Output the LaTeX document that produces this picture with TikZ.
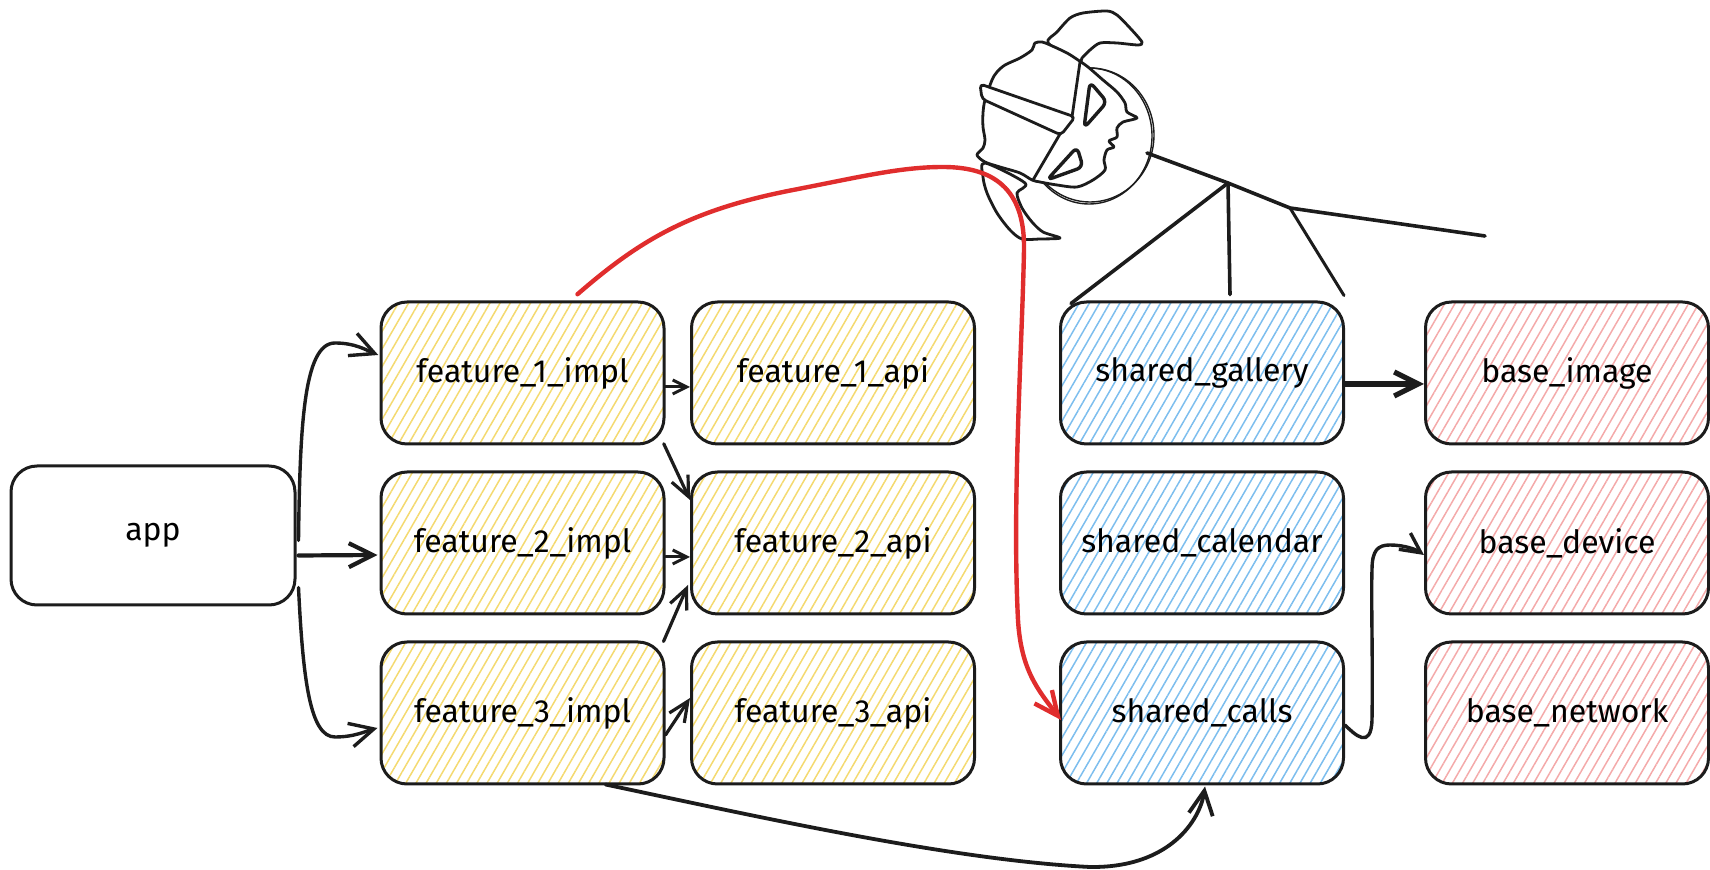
\documentclass[tikz,border=0pt]{standalone}
\usepackage{fontspec}
\setmainfont{Fira Sans}
\usetikzlibrary{arrows.meta,calc,patterns.meta}
\definecolor{ink}{RGB}{28,28,28}
\definecolor{hatchY}{RGB}{244,218,112}
\definecolor{hatchB}{RGB}{125,190,238}
\definecolor{hatchR}{RGB}{244,170,170}
\definecolor{redline}{RGB}{224,45,45}
\begin{document}
\begin{tikzpicture}[x=0.5pt,y=-0.5pt,
  box/.style={draw=ink, line width=1.5pt, rounded corners=13pt,
    minimum width=141.5pt, minimum height=71pt, inner sep=0pt,
    font=\fontsize{16}{19}\selectfont},
  yel/.style={box, pattern={Lines[angle=60,distance=4.4pt,line width=0.75pt]}, pattern color=hatchY},
  blu/.style={box, pattern={Lines[angle=60,distance=4.4pt,line width=0.75pt]}, pattern color=hatchB},
  pnk/.style={box, pattern={Lines[angle=60,distance=4.4pt,line width=0.75pt]}, pattern color=hatchR},
  conn/.style={draw=ink, line width=1.7pt, line cap=round,
    -{Straight Barb[length=12pt,width=12pt]}},
  thin/.style={draw=ink, line width=1.5pt, line cap=round,
    -{Straight Barb[length=7pt,width=7pt]}},
  mid/.style={draw=ink, line width=1.6pt, line cap=round,
    -{Straight Barb[length=10pt,width=9pt]}},
  knight/.style={draw=ink, line width=1.4pt, line join=round, line cap=round},
]
\useasboundingbox (0,0) rectangle (1710,870);

% modules
\node[box, minimum width=142pt, minimum height=69.5pt] (app) at (153,535.5) {app};
\node[yel] (f1i) at (522.5,373) {feature\_1\_impl};
\node[yel] (f1a) at (833,373) {feature\_1\_api};
\node[yel] (f2i) at (522.5,543) {feature\_2\_impl};
\node[yel] (f2a) at (833,543) {feature\_2\_api};
\node[yel] (f3i) at (522.5,713) {feature\_3\_impl};
\node[yel] (f3a) at (833,713) {feature\_3\_api};
\node[blu] (sg) at (1202,373) {shared\_gallery};
\node[blu] (sca) at (1202,543) {shared\_calendar};
\node[blu] (sc) at (1202,713) {shared\_calls};
\node[pnk] (bi) at (1567,373) {base\_image};
\node[pnk] (bd) at (1567,543) {base\_device};
\node[pnk] (bn) at (1567,713) {base\_network};

% app dependencies
\draw[conn] ($(app.east)+(2,5)$) .. controls (300,430) and (303,343) .. (335,343)
  .. controls (355,343) and (366,350) .. ($(f1i.west)+(-2,-18)$);
\draw[conn, line width=2.1pt] ($(app.east)+(2,20)$) -- ($(f2i.west)+(-2,12)$);
\draw[conn] ($(app.east)+(2,52)$) .. controls (303,680) and (310,737) .. (335,737)
  .. controls (355,737) and (366,731) .. ($(f3i.west)+(-2,15)$);

% feature dependencies
\draw[thin] ($(f1i.east)+(0,14)$) -- ($(f1a.west)+(0,14)$);
\draw[mid] ($(f1i.south east)+(-1,-1)$) -- ($(f2a.west)+(0,-43)$);
\draw[thin] ($(f2i.east)+(0,14)$) -- ($(f2a.west)+(0,14)$);
\draw[mid] ($(f3i.north east)+(-2,1)$) -- ($(f2a.west)+(-2,42)$);
\draw[mid] ($(f3i.east)+(0,22)$) -- ($(f3a.west)+(0,-15)$);
\draw[conn, line width=1.9pt] ($(f3i.south)+(83,-1)$) .. controls (750,815) and (950,860) .. (1090,867)
  .. controls (1170,868) and (1200,820) .. ($(sc.south)+(3,1)$);

% shared dependencies
\draw[conn, line width=2.6pt] ($(sg.east)+(0,11)$) -- ($(bi.west)+(0,11)$);
\draw[conn, -{Straight Barb[length=10pt,width=10pt]}] ($(sc.east)+(0,12)$)
  .. controls (1355,735) and (1371,750) .. (1372,720)
  .. controls (1373,660) and (1371,600) .. (1372,570)
  .. controls (1372,550) and (1378,545) .. (1390,545)
  .. controls (1405,545) and (1417,550) .. ($(bd.west)+(0,12)$);

% knight: head disc, neck, plume, helmet and visor
\draw[knight, line width=0.7pt] (1089,136) ellipse [x radius=31.5pt, y radius=34pt];
\draw[knight, line width=0.7pt] (1090,135) ellipse [x radius=32pt, y radius=33.5pt];
\draw[knight, fill=white] plot[smooth cycle, tension=0.5] coordinates {(985,163) (983,177) (987,193) (997,213) (1010,230) (1022,239) (1040,239) (1060,238) (1043,232) (1032,222) (1022,208) (1017,193) (1025,183)};
\draw[knight, fill=white] plot[smooth cycle, tension=0.45] coordinates {(1048,43) (1057,32) (1070,18) (1083,13) (1107,11) (1117,15) (1130,28) (1142,42) (1138,45) (1117,43) (1100,43) (1090,50) (1082,58) (1078,62)};
\draw[knight, fill=white] plot[smooth cycle, tension=0.5] coordinates {(1078,60) (1067,53) (1050,45) (1042,42) (1035,43) (1032,50) (1020,58) (1005,65) (997,72) (992,80) (985,100) (983,113) (983,127) (985,140) (983,148) (977,155) (985,162) (1000,167) (1020,173) (1032,180) (1040,182) (1057,185) (1077,187) (1093,180) (1105,170) (1104,160) (1107,150) (1114,147) (1109,141) (1117,137) (1117,128) (1123,122) (1137,118) (1127,112) (1125,103) (1117,92) (1103,80) (1088,67)};
\draw[knight, fill=white, rounded corners=2pt] (980,84) -- (1075,117) -- (1061,135) -- (982,99) -- cycle;
\draw[knight] (1072,117) -- (1080,62);
\draw[knight] (1060,134) -- (1033,180);
\draw[knight, line width=1.7pt, rounded corners=3pt] (1090,82) -- (1107,102) -- (1084,128) -- cycle;
\draw[knight, line width=1.7pt, rounded corners=3pt] (1077,147) -- (1083,167) -- (1047,180) -- cycle;

% knight: body and legs
\draw[knight, line width=1.8pt] (1147,153) -- (1228,183) -- (1290,208) -- (1485,236);
\draw[knight, line width=1.8pt] (1228,183) -- ($(sg.north west)+(12,3)$);
\draw[knight, line width=1.8pt] (1228,183) -- ($(sg.north)+(28,-6)$);
\draw[knight, line width=1.5pt] (1290,208) -- ($(sg.north east)+(-1,-5)$);

% highlighted dependency
\draw[draw=redline, line width=2.2pt, line cap=round,
  -{Straight Barb[length=12pt,width=11pt]}]
  ($(f1i.north)+(55,-7)$) .. controls (640,240) and (690,210) .. (793,190)
  .. controls (860,177) and (900,167) .. (943,167)
  .. controls (1000,167) and (1025,195) .. (1024,250)
  .. controls (1022,350) and (1012,500) .. (1018,620)
  .. controls (1021,670) and (1038,690) .. ($(sc.west)+(2,7)$);
\end{tikzpicture}
\end{document}
